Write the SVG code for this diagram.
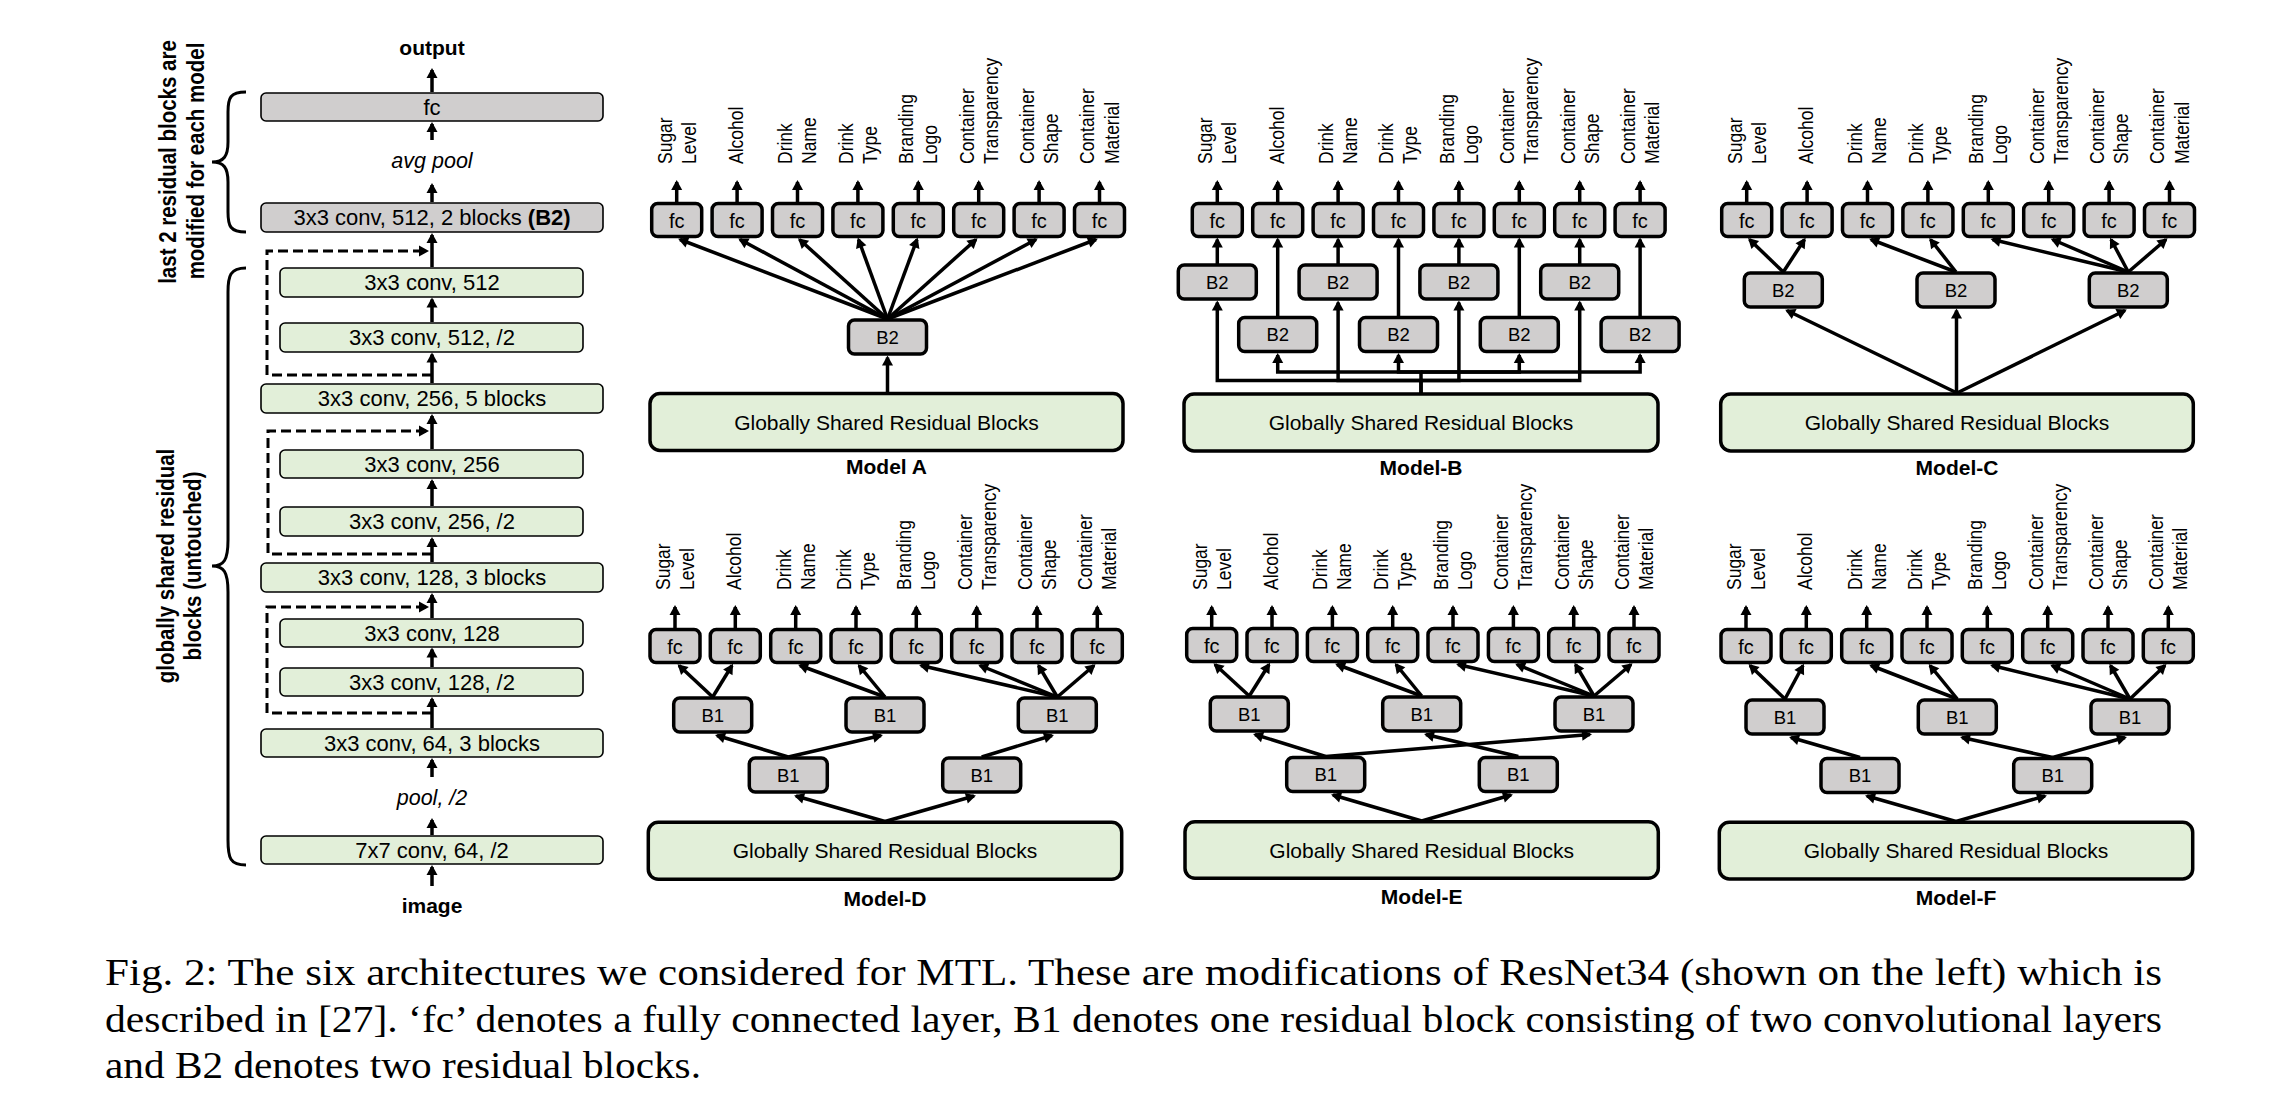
<svg xmlns="http://www.w3.org/2000/svg" width="2275" height="1118" viewBox="0 0 2275 1118">
<style>
text{font-family:"Liberation Sans",Arial,sans-serif;fill:#000}
.g{fill:#e2efd9;stroke:#000;stroke-width:1.6}
.gr{fill:#d0cece;stroke:#000;stroke-width:1.6}
.tg{fill:#e2efd9;stroke:#000;stroke-width:3.5}
.tgr{fill:#d0cece;stroke:#000;stroke-width:3.5}
.t22{font-size:22px;text-anchor:middle}
.lbl{font-size:17.5px}
.fc{font-size:20px;text-anchor:middle}
.bb{font-size:18.5px;text-anchor:middle}
.sh{font-size:21px;text-anchor:middle}
.mt{font-size:21px;font-weight:bold;text-anchor:middle}
.it{font-size:21.5px;font-style:italic;text-anchor:middle}
.ar{fill:none;stroke:#000;stroke-width:3.5;marker-end:url(#ah)}
.da{fill:none;stroke:#000;stroke-width:3;stroke-dasharray:10 5;marker-end:url(#ah)}
.br{fill:none;stroke:#000;stroke-width:3}
.side{font-size:20.5px;font-weight:bold;text-anchor:middle}
.cap{font-family:"Liberation Serif","Times New Roman",serif;font-size:38px}
</style>
<defs>
<marker id="ah" markerUnits="userSpaceOnUse" markerWidth="12" markerHeight="12" refX="8" refY="5.5" orient="auto" overflow="visible"><path d="M0,0 L10,5.5 L0,11 z" fill="#000"/></marker>
</defs>

<!-- Left column: ResNet34 -->
<g id="resnet">
<text class="mt" x="432" y="55">output</text>
<g id="L-fc"><rect class="gr" x="261" y="93" width="342" height="28" rx="5"/><text class="t22" x="432" y="114.5">fc</text></g>
<text class="it" x="432" y="168">avg pool</text>
<g id="L-b2"><rect class="gr" x="261" y="203" width="342" height="29" rx="5"/><text class="t22" x="432" y="225">3x3 conv, 512, 2 blocks <tspan font-weight="bold">(B2)</tspan></text></g>
<g id="L-c512"><rect class="g" x="280" y="268" width="303" height="29" rx="5"/><text class="t22" x="432" y="290">3x3 conv, 512</text></g>
<g id="L-c512h"><rect class="g" x="280" y="323" width="303" height="29" rx="5"/><text class="t22" x="432" y="345">3x3 conv, 512, /2</text></g>
<g id="L-c256x5"><rect class="g" x="261" y="384" width="342" height="29" rx="5"/><text class="t22" x="432" y="406">3x3 conv, 256, 5 blocks</text></g>
<g id="L-c256"><rect class="g" x="280" y="450" width="303" height="28" rx="5"/><text class="t22" x="432" y="471.5">3x3 conv, 256</text></g>
<g id="L-c256h"><rect class="g" x="280" y="507" width="303" height="29" rx="5"/><text class="t22" x="432" y="529">3x3 conv, 256, /2</text></g>
<g id="L-c128x3"><rect class="g" x="261" y="563" width="342" height="29" rx="5"/><text class="t22" x="432" y="585">3x3 conv, 128, 3 blocks</text></g>
<g id="L-c128"><rect class="g" x="280" y="619" width="303" height="28" rx="5"/><text class="t22" x="432" y="640.5">3x3 conv, 128</text></g>
<g id="L-c128h"><rect class="g" x="280" y="668" width="303" height="28" rx="5"/><text class="t22" x="432" y="689.5">3x3 conv, 128, /2</text></g>
<g id="L-c64x3"><rect class="g" x="261" y="729" width="342" height="28" rx="5"/><text class="t22" x="432" y="750.5">3x3 conv, 64, 3 blocks</text></g>
<text class="it" x="432" y="805">pool, /2</text>
<g id="L-c7x7"><rect class="g" x="261" y="836" width="342" height="28" rx="5"/><text class="t22" x="432" y="857.5">7x7 conv, 64, /2</text></g>
<text class="mt" x="432" y="913">image</text>
<path class="br" d="M246,92 C230,92 228,98 228,112 V142 C228,156 224,162 212,162 C224,162 228,168 228,182 V212 C228,226 230,232 246,232"/>
<path class="br" d="M246,268 C230,268 228,276 228,292 V540 C228,560 224,566 212,566 C224,566 228,572 228,592 V840 C228,858 230,865 246,865"/>
<text class="side" transform="translate(176,162) rotate(-90) scale(1,1.2)">last 2 residual blocks are</text>
<text class="side" transform="translate(204,161) rotate(-90) scale(1,1.2)">modified for each model</text>
<text class="side" transform="translate(174,566) rotate(-90) scale(1,1.2)">globally shared residual</text>
<text class="side" transform="translate(201,566) rotate(-90) scale(1,1.2)">blocks (untouched)</text>
</g>

<!-- Output labels -->
<g id="labels-A" class="lbl" transform="translate(676.7,164) rotate(-90) scale(1,1.2)">
<text y="-4.17">Sugar</text><text y="15.83">Level</text><text y="55.33">Alcohol</text>
<text y="96.5">Drink</text><text y="116.5">Name</text><text y="146.83">Drink</text><text y="166.83">Type</text>
<text y="197.17">Branding</text><text y="217.17">Logo</text><text y="247.5">Container</text><text y="267.5">Transparency</text>
<text y="297.83">Container</text><text y="317.83">Shape</text><text y="348.17">Container</text><text y="368.17">Material</text>
</g>
<g id="labels-B" class="lbl" transform="translate(1217.3,164) rotate(-90) scale(1,1.2)">
<text y="-4.17">Sugar</text><text y="15.83">Level</text><text y="55.33">Alcohol</text>
<text y="96.5">Drink</text><text y="116.5">Name</text><text y="146.83">Drink</text><text y="166.83">Type</text>
<text y="197.17">Branding</text><text y="217.17">Logo</text><text y="247.5">Container</text><text y="267.5">Transparency</text>
<text y="297.83">Container</text><text y="317.83">Shape</text><text y="348.17">Container</text><text y="368.17">Material</text>
</g>
<g id="labels-C" class="lbl" transform="translate(1746.7,164) rotate(-90) scale(1,1.2)">
<text y="-4.17">Sugar</text><text y="15.83">Level</text><text y="55.33">Alcohol</text>
<text y="96.5">Drink</text><text y="116.5">Name</text><text y="146.83">Drink</text><text y="166.83">Type</text>
<text y="197.17">Branding</text><text y="217.17">Logo</text><text y="247.5">Container</text><text y="267.5">Transparency</text>
<text y="297.83">Container</text><text y="317.83">Shape</text><text y="348.17">Container</text><text y="368.17">Material</text>
</g>
<g id="labels-D" class="lbl" transform="translate(675,590) rotate(-90) scale(1,1.2)">
<text y="-4.17">Sugar</text><text y="15.83">Level</text><text y="55.28">Alcohol</text>
<text y="96.39">Drink</text><text y="116.39">Name</text><text y="146.67">Drink</text><text y="166.67">Type</text>
<text y="196.94">Branding</text><text y="216.94">Logo</text><text y="247.22">Container</text><text y="267.22">Transparency</text>
<text y="297.5">Container</text><text y="317.5">Shape</text><text y="347.78">Container</text><text y="367.78">Material</text>
</g>
<g id="labels-E" class="lbl" transform="translate(1211.7,590) rotate(-90) scale(1,1.2)">
<text y="-4.17">Sugar</text><text y="15.83">Level</text><text y="55.28">Alcohol</text>
<text y="96.39">Drink</text><text y="116.39">Name</text><text y="146.67">Drink</text><text y="166.67">Type</text>
<text y="196.94">Branding</text><text y="216.94">Logo</text><text y="247.22">Container</text><text y="267.22">Transparency</text>
<text y="297.5">Container</text><text y="317.5">Shape</text><text y="347.78">Container</text><text y="367.78">Material</text>
</g>
<g id="labels-F" class="lbl" transform="translate(1746,590) rotate(-90) scale(1,1.2)">
<text y="-4.17">Sugar</text><text y="15.83">Level</text><text y="55.28">Alcohol</text>
<text y="96.39">Drink</text><text y="116.39">Name</text><text y="146.67">Drink</text><text y="166.67">Type</text>
<text y="196.94">Branding</text><text y="216.94">Logo</text><text y="247.22">Container</text><text y="267.22">Transparency</text>
<text y="297.5">Container</text><text y="317.5">Shape</text><text y="347.78">Container</text><text y="367.78">Material</text>
</g>

<!-- Model A -->
<g id="modelA">
<g id="A-fc1"><rect class="tgr" x="651.7" y="203.5" width="50" height="33" rx="6"/><text class="fc" x="676.7" y="227.5">fc</text></g>
<g id="A-fc2"><rect class="tgr" x="712.1" y="203.5" width="50" height="33" rx="6"/><text class="fc" x="737.1" y="227.5">fc</text></g>
<g id="A-fc3"><rect class="tgr" x="772.5" y="203.5" width="50" height="33" rx="6"/><text class="fc" x="797.5" y="227.5">fc</text></g>
<g id="A-fc4"><rect class="tgr" x="832.9" y="203.5" width="50" height="33" rx="6"/><text class="fc" x="857.9" y="227.5">fc</text></g>
<g id="A-fc5"><rect class="tgr" x="893.3" y="203.5" width="50" height="33" rx="6"/><text class="fc" x="918.3" y="227.5">fc</text></g>
<g id="A-fc6"><rect class="tgr" x="953.7" y="203.5" width="50" height="33" rx="6"/><text class="fc" x="978.7" y="227.5">fc</text></g>
<g id="A-fc7"><rect class="tgr" x="1014.1" y="203.5" width="50" height="33" rx="6"/><text class="fc" x="1039.1" y="227.5">fc</text></g>
<g id="A-fc8"><rect class="tgr" x="1074.5" y="203.5" width="50" height="33" rx="6"/><text class="fc" x="1099.5" y="227.5">fc</text></g>
<g id="A-b2"><rect class="tgr" x="848.5" y="320" width="78" height="34" rx="6"/><text class="bb" x="887.5" y="343.5">B2</text></g>
<g id="A-shared"><rect class="tg" x="650" y="393.5" width="473" height="57" rx="10"/><text class="sh" x="886.5" y="429.5">Globally Shared Residual Blocks</text></g>
<text class="mt" x="886.5" y="474">Model A</text>
</g>

<!-- Model B -->
<g id="modelB">
<g id="B-fc1"><rect class="tgr" x="1192.3" y="203.5" width="50" height="33" rx="6"/><text class="fc" x="1217.3" y="227.5">fc</text></g>
<g id="B-fc2"><rect class="tgr" x="1252.7" y="203.5" width="50" height="33" rx="6"/><text class="fc" x="1277.7" y="227.5">fc</text></g>
<g id="B-fc3"><rect class="tgr" x="1313.1" y="203.5" width="50" height="33" rx="6"/><text class="fc" x="1338.1" y="227.5">fc</text></g>
<g id="B-fc4"><rect class="tgr" x="1373.5" y="203.5" width="50" height="33" rx="6"/><text class="fc" x="1398.5" y="227.5">fc</text></g>
<g id="B-fc5"><rect class="tgr" x="1433.9" y="203.5" width="50" height="33" rx="6"/><text class="fc" x="1458.9" y="227.5">fc</text></g>
<g id="B-fc6"><rect class="tgr" x="1494.3" y="203.5" width="50" height="33" rx="6"/><text class="fc" x="1519.3" y="227.5">fc</text></g>
<g id="B-fc7"><rect class="tgr" x="1554.7" y="203.5" width="50" height="33" rx="6"/><text class="fc" x="1579.7" y="227.5">fc</text></g>
<g id="B-fc8"><rect class="tgr" x="1615.1" y="203.5" width="50" height="33" rx="6"/><text class="fc" x="1640.1" y="227.5">fc</text></g>
<g id="B-b2u1"><rect class="tgr" x="1178.3" y="265" width="78" height="34" rx="6"/><text class="bb" x="1217.3" y="288.5">B2</text></g>
<g id="B-b2u2"><rect class="tgr" x="1299.1" y="265" width="78" height="34" rx="6"/><text class="bb" x="1338.1" y="288.5">B2</text></g>
<g id="B-b2u3"><rect class="tgr" x="1419.9" y="265" width="78" height="34" rx="6"/><text class="bb" x="1458.9" y="288.5">B2</text></g>
<g id="B-b2u4"><rect class="tgr" x="1540.7" y="265" width="78" height="34" rx="6"/><text class="bb" x="1579.7" y="288.5">B2</text></g>
<g id="B-b2l1"><rect class="tgr" x="1238.7" y="317.5" width="78" height="34" rx="6"/><text class="bb" x="1277.7" y="341">B2</text></g>
<g id="B-b2l2"><rect class="tgr" x="1359.5" y="317.5" width="78" height="34" rx="6"/><text class="bb" x="1398.5" y="341">B2</text></g>
<g id="B-b2l3"><rect class="tgr" x="1480.3" y="317.5" width="78" height="34" rx="6"/><text class="bb" x="1519.3" y="341">B2</text></g>
<g id="B-b2l4"><rect class="tgr" x="1601.1" y="317.5" width="78" height="34" rx="6"/><text class="bb" x="1640.1" y="341">B2</text></g>
<g id="B-shared"><rect class="tg" x="1184" y="394" width="474" height="57" rx="10"/><text class="sh" x="1421" y="430">Globally Shared Residual Blocks</text></g>
<text class="mt" x="1421" y="475">Model-B</text>
</g>

<!-- Model C -->
<g id="modelC">
<g id="C-fc1"><rect class="tgr" x="1721.7" y="203.5" width="50" height="33" rx="6"/><text class="fc" x="1746.7" y="227.5">fc</text></g>
<g id="C-fc2"><rect class="tgr" x="1782.1" y="203.5" width="50" height="33" rx="6"/><text class="fc" x="1807.1" y="227.5">fc</text></g>
<g id="C-fc3"><rect class="tgr" x="1842.5" y="203.5" width="50" height="33" rx="6"/><text class="fc" x="1867.5" y="227.5">fc</text></g>
<g id="C-fc4"><rect class="tgr" x="1902.9" y="203.5" width="50" height="33" rx="6"/><text class="fc" x="1927.9" y="227.5">fc</text></g>
<g id="C-fc5"><rect class="tgr" x="1963.3" y="203.5" width="50" height="33" rx="6"/><text class="fc" x="1988.3" y="227.5">fc</text></g>
<g id="C-fc6"><rect class="tgr" x="2023.7" y="203.5" width="50" height="33" rx="6"/><text class="fc" x="2048.7" y="227.5">fc</text></g>
<g id="C-fc7"><rect class="tgr" x="2084.1" y="203.5" width="50" height="33" rx="6"/><text class="fc" x="2109.1" y="227.5">fc</text></g>
<g id="C-fc8"><rect class="tgr" x="2144.5" y="203.5" width="50" height="33" rx="6"/><text class="fc" x="2169.5" y="227.5">fc</text></g>
<g id="C-b2a"><rect class="tgr" x="1744.3" y="273" width="78" height="34" rx="6"/><text class="bb" x="1783.3" y="296.5">B2</text></g>
<g id="C-b2b"><rect class="tgr" x="1917" y="273" width="78" height="34" rx="6"/><text class="bb" x="1956" y="296.5">B2</text></g>
<g id="C-b2c"><rect class="tgr" x="2089.3" y="273" width="78" height="34" rx="6"/><text class="bb" x="2128.3" y="296.5">B2</text></g>
<g id="C-shared"><rect class="tg" x="1720.7" y="394" width="472.6" height="57" rx="10"/><text class="sh" x="1957" y="430">Globally Shared Residual Blocks</text></g>
<text class="mt" x="1957" y="475">Model-C</text>
</g>

<!-- Model D -->
<g id="modelD">
<g id="D-fc1"><rect class="tgr" x="650" y="629.5" width="50" height="33" rx="6"/><text class="fc" x="675" y="653.5">fc</text></g>
<g id="D-fc2"><rect class="tgr" x="710.3" y="629.5" width="50" height="33" rx="6"/><text class="fc" x="735.3" y="653.5">fc</text></g>
<g id="D-fc3"><rect class="tgr" x="770.7" y="629.5" width="50" height="33" rx="6"/><text class="fc" x="795.7" y="653.5">fc</text></g>
<g id="D-fc4"><rect class="tgr" x="831" y="629.5" width="50" height="33" rx="6"/><text class="fc" x="856" y="653.5">fc</text></g>
<g id="D-fc5"><rect class="tgr" x="891.3" y="629.5" width="50" height="33" rx="6"/><text class="fc" x="916.3" y="653.5">fc</text></g>
<g id="D-fc6"><rect class="tgr" x="951.7" y="629.5" width="50" height="33" rx="6"/><text class="fc" x="976.7" y="653.5">fc</text></g>
<g id="D-fc7"><rect class="tgr" x="1012" y="629.5" width="50" height="33" rx="6"/><text class="fc" x="1037" y="653.5">fc</text></g>
<g id="D-fc8"><rect class="tgr" x="1072.3" y="629.5" width="50" height="33" rx="6"/><text class="fc" x="1097.3" y="653.5">fc</text></g>
<g id="D-b1u1"><rect class="tgr" x="673.7" y="698" width="78" height="34" rx="6"/><text class="bb" x="712.7" y="721.5">B1</text></g>
<g id="D-b1u2"><rect class="tgr" x="846" y="698" width="78" height="34" rx="6"/><text class="bb" x="885" y="721.5">B1</text></g>
<g id="D-b1u3"><rect class="tgr" x="1018.3" y="698" width="78" height="34" rx="6"/><text class="bb" x="1057.3" y="721.5">B1</text></g>
<g id="D-b1l1"><rect class="tgr" x="749.3" y="758" width="78" height="34" rx="6"/><text class="bb" x="788.3" y="781.5">B1</text></g>
<g id="D-b1l2"><rect class="tgr" x="942.7" y="758" width="78" height="34" rx="6"/><text class="bb" x="981.7" y="781.5">B1</text></g>
<g id="D-shared"><rect class="tg" x="648.3" y="822.3" width="473.4" height="57" rx="10"/><text class="sh" x="885" y="858.3">Globally Shared Residual Blocks</text></g>
<text class="mt" x="885" y="906">Model-D</text>
</g>

<!-- Model E -->
<g id="modelE">
<g id="E-fc1"><rect class="tgr" x="1186.7" y="628.5" width="50" height="33" rx="6"/><text class="fc" x="1211.7" y="652.5">fc</text></g>
<g id="E-fc2"><rect class="tgr" x="1247" y="628.5" width="50" height="33" rx="6"/><text class="fc" x="1272" y="652.5">fc</text></g>
<g id="E-fc3"><rect class="tgr" x="1307.4" y="628.5" width="50" height="33" rx="6"/><text class="fc" x="1332.4" y="652.5">fc</text></g>
<g id="E-fc4"><rect class="tgr" x="1367.7" y="628.5" width="50" height="33" rx="6"/><text class="fc" x="1392.7" y="652.5">fc</text></g>
<g id="E-fc5"><rect class="tgr" x="1428" y="628.5" width="50" height="33" rx="6"/><text class="fc" x="1453" y="652.5">fc</text></g>
<g id="E-fc6"><rect class="tgr" x="1488.4" y="628.5" width="50" height="33" rx="6"/><text class="fc" x="1513.4" y="652.5">fc</text></g>
<g id="E-fc7"><rect class="tgr" x="1548.7" y="628.5" width="50" height="33" rx="6"/><text class="fc" x="1573.7" y="652.5">fc</text></g>
<g id="E-fc8"><rect class="tgr" x="1609" y="628.5" width="50" height="33" rx="6"/><text class="fc" x="1634" y="652.5">fc</text></g>
<g id="E-b1u1"><rect class="tgr" x="1210.3" y="697" width="78" height="34" rx="6"/><text class="bb" x="1249.3" y="720.5">B1</text></g>
<g id="E-b1u2"><rect class="tgr" x="1382.7" y="697" width="78" height="34" rx="6"/><text class="bb" x="1421.7" y="720.5">B1</text></g>
<g id="E-b1u3"><rect class="tgr" x="1555" y="697" width="78" height="34" rx="6"/><text class="bb" x="1594" y="720.5">B1</text></g>
<g id="E-b1l1"><rect class="tgr" x="1286.7" y="757.5" width="78" height="34" rx="6"/><text class="bb" x="1325.7" y="781">B1</text></g>
<g id="E-b1l2"><rect class="tgr" x="1479.3" y="757.5" width="78" height="34" rx="6"/><text class="bb" x="1518.3" y="781">B1</text></g>
<g id="E-shared"><rect class="tg" x="1185" y="821.7" width="473.3" height="56.6" rx="10"/><text class="sh" x="1421.7" y="857.5">Globally Shared Residual Blocks</text></g>
<text class="mt" x="1421.7" y="904">Model-E</text>
</g>

<!-- Model F -->
<g id="modelF">
<g id="F-fc1"><rect class="tgr" x="1721" y="629.5" width="50" height="33" rx="6"/><text class="fc" x="1746" y="653.5">fc</text></g>
<g id="F-fc2"><rect class="tgr" x="1781.3" y="629.5" width="50" height="33" rx="6"/><text class="fc" x="1806.3" y="653.5">fc</text></g>
<g id="F-fc3"><rect class="tgr" x="1841.7" y="629.5" width="50" height="33" rx="6"/><text class="fc" x="1866.7" y="653.5">fc</text></g>
<g id="F-fc4"><rect class="tgr" x="1902" y="629.5" width="50" height="33" rx="6"/><text class="fc" x="1927" y="653.5">fc</text></g>
<g id="F-fc5"><rect class="tgr" x="1962.3" y="629.5" width="50" height="33" rx="6"/><text class="fc" x="1987.3" y="653.5">fc</text></g>
<g id="F-fc6"><rect class="tgr" x="2022.7" y="629.5" width="50" height="33" rx="6"/><text class="fc" x="2047.7" y="653.5">fc</text></g>
<g id="F-fc7"><rect class="tgr" x="2083" y="629.5" width="50" height="33" rx="6"/><text class="fc" x="2108" y="653.5">fc</text></g>
<g id="F-fc8"><rect class="tgr" x="2143.3" y="629.5" width="50" height="33" rx="6"/><text class="fc" x="2168.3" y="653.5">fc</text></g>
<g id="F-b1u1"><rect class="tgr" x="1746" y="700" width="78" height="34" rx="6"/><text class="bb" x="1785" y="723.5">B1</text></g>
<g id="F-b1u2"><rect class="tgr" x="1918.3" y="700" width="78" height="34" rx="6"/><text class="bb" x="1957.3" y="723.5">B1</text></g>
<g id="F-b1u3"><rect class="tgr" x="2091" y="700" width="78" height="34" rx="6"/><text class="bb" x="2130" y="723.5">B1</text></g>
<g id="F-b1l1"><rect class="tgr" x="1821" y="758.5" width="78" height="34" rx="6"/><text class="bb" x="1860" y="782">B1</text></g>
<g id="F-b1l2"><rect class="tgr" x="2013.7" y="758.5" width="78" height="34" rx="6"/><text class="bb" x="2052.7" y="782">B1</text></g>
<g id="F-shared"><rect class="tg" x="1719.3" y="822.3" width="473.4" height="56.7" rx="10"/><text class="sh" x="1956" y="858">Globally Shared Residual Blocks</text></g>
<text class="mt" x="1956" y="905">Model-F</text>
</g>

<!-- Connectors -->
<g id="connectors">
<!-- left column -->
<path class="ar" d="M432,92 V70"/>
<path class="ar" d="M432,140 V124"/>
<path class="ar" d="M432,202 V185"/>
<path class="ar" d="M432,267 V235"/>
<path class="ar" d="M432,322 V299.5"/>
<path class="ar" d="M432,383 V354.5"/>
<path class="ar" d="M432,449 V416"/>
<path class="ar" d="M432,506 V481"/>
<path class="ar" d="M432,562 V539"/>
<path class="ar" d="M432,618 V595"/>
<path class="ar" d="M432,667 V649.5"/>
<path class="ar" d="M432,728 V699"/>
<path class="ar" d="M432,777 V760"/>
<path class="ar" d="M432,835 V820"/>
<path class="ar" d="M432,886 V867"/>
<path class="da" d="M432,375 H267 V251 H427"/>
<path class="da" d="M432,554 H268 V431 H427"/>
<path class="da" d="M432,713 H267 V607 H427"/>

<!-- label arrows top row -->
<path class="ar" d="M676.7,202 V182"/><path class="ar" d="M737.1,202 V182"/><path class="ar" d="M797.5,202 V182"/><path class="ar" d="M857.9,202 V182"/>
<path class="ar" d="M918.3,202 V182"/><path class="ar" d="M978.7,202 V182"/><path class="ar" d="M1039.1,202 V182"/><path class="ar" d="M1099.5,202 V182"/>
<path class="ar" d="M1217.3,202 V182"/><path class="ar" d="M1277.7,202 V182"/><path class="ar" d="M1338.1,202 V182"/><path class="ar" d="M1398.5,202 V182"/>
<path class="ar" d="M1458.9,202 V182"/><path class="ar" d="M1519.3,202 V182"/><path class="ar" d="M1579.7,202 V182"/><path class="ar" d="M1640.1,202 V182"/>
<path class="ar" d="M1746.7,202 V182"/><path class="ar" d="M1807.1,202 V182"/><path class="ar" d="M1867.5,202 V182"/><path class="ar" d="M1927.9,202 V182"/>
<path class="ar" d="M1988.3,202 V182"/><path class="ar" d="M2048.7,202 V182"/><path class="ar" d="M2109.1,202 V182"/><path class="ar" d="M2169.5,202 V182"/>
<!-- label arrows bottom row -->
<path class="ar" d="M675,628 V607"/><path class="ar" d="M735.3,628 V607"/><path class="ar" d="M795.7,628 V607"/><path class="ar" d="M856,628 V607"/>
<path class="ar" d="M916.3,628 V607"/><path class="ar" d="M976.7,628 V607"/><path class="ar" d="M1037,628 V607"/><path class="ar" d="M1097.3,628 V607"/>
<path class="ar" d="M1211.7,627 V607"/><path class="ar" d="M1272,627 V607"/><path class="ar" d="M1332.4,627 V607"/><path class="ar" d="M1392.7,627 V607"/>
<path class="ar" d="M1453,627 V607"/><path class="ar" d="M1513.4,627 V607"/><path class="ar" d="M1573.7,627 V607"/><path class="ar" d="M1634,627 V607"/>
<path class="ar" d="M1746,628 V607"/><path class="ar" d="M1806.3,628 V607"/><path class="ar" d="M1866.7,628 V607"/><path class="ar" d="M1927,628 V607"/>
<path class="ar" d="M1987.3,628 V607"/><path class="ar" d="M2047.7,628 V607"/><path class="ar" d="M2108,628 V607"/><path class="ar" d="M2168.3,628 V607"/>

<!-- Model A -->
<path class="ar" d="M887.5,393 V357.5"/>
<path class="ar" d="M887.5,319 L680,239.5"/>
<path class="ar" d="M887.5,319 L740,239.5"/>
<path class="ar" d="M887.5,319 L799.5,239.5"/>
<path class="ar" d="M887.5,319 L858.5,239.5"/>
<path class="ar" d="M887.5,319 L917,239.5"/>
<path class="ar" d="M887.5,319 L976,239.5"/>
<path class="ar" d="M887.5,319 L1036,239.5"/>
<path class="ar" d="M887.5,319 L1096,239.5"/>

<!-- Model B -->
<path class="ar" d="M1217.3,264 V239.5"/><path class="ar" d="M1338.1,264 V239.5"/><path class="ar" d="M1458.9,264 V239.5"/><path class="ar" d="M1579.7,264 V239.5"/>
<path class="ar" d="M1277.7,316 V239.5"/><path class="ar" d="M1398.5,316 V239.5"/><path class="ar" d="M1519.3,316 V239.5"/><path class="ar" d="M1640.1,316 V239.5"/>
<path class="ar" d="M1421,394 V380.5 H1217.3 V302.5"/>
<path class="ar" d="M1421,380.5 H1338.1 V302.5"/>
<path class="ar" d="M1421,380.5 H1458.9 V302.5"/>
<path class="ar" d="M1421,380.5 H1579.7 V302.5"/>
<path class="ar" d="M1421,394 V372 H1277.7 V355"/>
<path class="ar" d="M1421,372 H1398.5 V355"/>
<path class="ar" d="M1421,372 H1519.3 V355"/>
<path class="ar" d="M1421,372 H1640.1 V355"/>

<!-- Model C -->
<path class="ar" d="M1957,393 L1787,310.5"/>
<path class="ar" d="M1956.5,393 V310.5"/>
<path class="ar" d="M1957,393 L2125,310.5"/>
<path class="ar" d="M1783.3,272 L1749.5,239.5"/>
<path class="ar" d="M1783.3,272 L1804.5,239.5"/>
<path class="ar" d="M1956,272 L1871,239.5"/>
<path class="ar" d="M1956,272 L1930.5,239.5"/>
<path class="ar" d="M2128.3,272 L1992.5,239.5"/>
<path class="ar" d="M2128.3,272 L2052.5,239.5"/>
<path class="ar" d="M2128.3,272 L2111,239.5"/>
<path class="ar" d="M2128.3,272 L2166,239.5"/>

<!-- Model D -->
<path class="ar" d="M885,821.5 L796,796"/>
<path class="ar" d="M885,821.5 L974,796"/>
<path class="ar" d="M788.3,757 L717,735.5"/>
<path class="ar" d="M788.3,757 L881,735.5"/>
<path class="ar" d="M981.7,757 L1052,735.5"/>
<path class="ar" d="M712.7,697 L679,665.5"/>
<path class="ar" d="M712.7,697 L732,665.5"/>
<path class="ar" d="M885,697 L800,665.5"/>
<path class="ar" d="M885,697 L859,665.5"/>
<path class="ar" d="M1057.3,697 L921,665.5"/>
<path class="ar" d="M1057.3,697 L980,665.5"/>
<path class="ar" d="M1057.3,697 L1038.5,665.5"/>
<path class="ar" d="M1057.3,697 L1094,665.5"/>

<!-- Model E -->
<path class="ar" d="M1421.7,821 L1333,795"/>
<path class="ar" d="M1421.7,821 L1511,795"/>
<path class="ar" d="M1325.7,756.5 L1255,734.5"/>
<path class="ar" d="M1325.7,756.5 L1590,734.5"/>
<path class="ar" d="M1518.3,756.5 L1426,734.5"/>
<path class="ar" d="M1249.3,696 L1215,664.5"/>
<path class="ar" d="M1249.3,696 L1269,664.5"/>
<path class="ar" d="M1421.7,696 L1337,664.5"/>
<path class="ar" d="M1421.7,696 L1396,664.5"/>
<path class="ar" d="M1594,696 L1458,664.5"/>
<path class="ar" d="M1594,696 L1517,664.5"/>
<path class="ar" d="M1594,696 L1575.5,664.5"/>
<path class="ar" d="M1594,696 L1631,664.5"/>

<!-- Model F -->
<path class="ar" d="M1956,821.5 L1867,796"/>
<path class="ar" d="M1956,821.5 L2045,796"/>
<path class="ar" d="M1860,757.5 L1791,737.5"/>
<path class="ar" d="M2052.7,757.5 L1962,737.5"/>
<path class="ar" d="M2052.7,757.5 L2125,737.5"/>
<path class="ar" d="M1785,699 L1750,665.5"/>
<path class="ar" d="M1785,699 L1803,665.5"/>
<path class="ar" d="M1957.3,699 L1871,665.5"/>
<path class="ar" d="M1957.3,699 L1930,665.5"/>
<path class="ar" d="M2130,699 L1992,665.5"/>
<path class="ar" d="M2130,699 L2052,665.5"/>
<path class="ar" d="M2130,699 L2110.5,665.5"/>
<path class="ar" d="M2130,699 L2165,665.5"/>
</g>

<!-- Caption -->
<g id="caption">
<text class="cap" x="105" y="985" textLength="2057" lengthAdjust="spacingAndGlyphs">Fig. 2: The six architectures we considered for MTL. These are modifications of ResNet34 (shown on the left) which is</text>
<text class="cap" x="105" y="1031.7" textLength="2057" lengthAdjust="spacingAndGlyphs">described in [27]. ‘fc’ denotes a fully connected layer, B1 denotes one residual block consisting of two convolutional layers</text>
<text class="cap" x="105" y="1078.4" textLength="596" lengthAdjust="spacingAndGlyphs">and B2 denotes two residual blocks.</text>
</g>
</svg>
